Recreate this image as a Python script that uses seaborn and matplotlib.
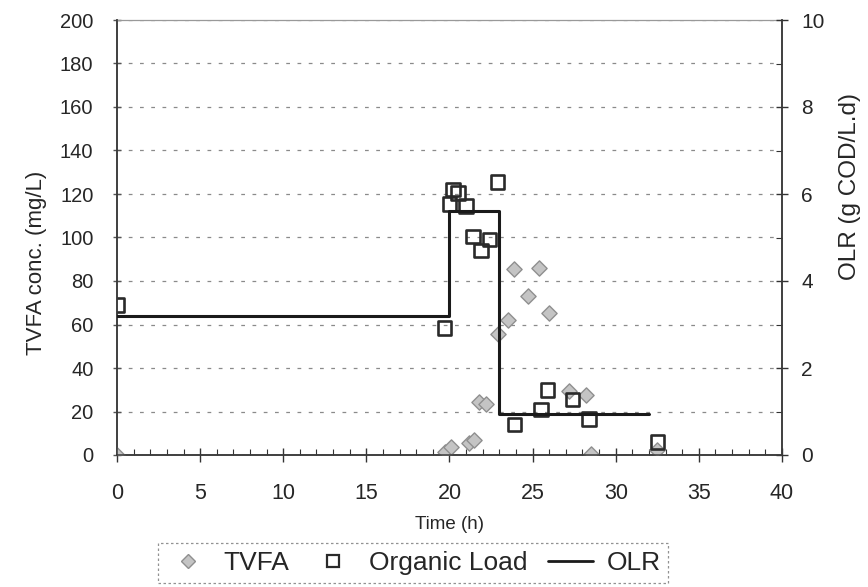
import matplotlib
matplotlib.use("Agg")
import matplotlib.pyplot as plt
import seaborn as sns
import pandas as pd
from matplotlib.ticker import MultipleLocator
from matplotlib.lines import Line2D

# ---- data ----
tvfa_time = [0, 19.7, 20.1, 21.2, 21.5, 21.8, 22.2, 22.9, 23.5, 23.9, 24.7, 25.4, 26.0, 27.2, 28.2, 28.5, 32.5]
tvfa_conc = [0, 1.5, 3.5, 5.5, 7.0, 24.5, 23.5, 55.5, 62.0, 85.5, 73.0, 86.0, 65.5, 29.5, 27.5, 0.5, 2.5]

load_time = [0, 19.7, 20.0, 20.2, 20.5, 21.0, 21.4, 21.9, 22.4, 22.9, 23.9, 25.5, 25.9, 27.4, 28.4, 32.5]
load_vals = [69, 58.5, 115.5, 122, 120.5, 114.5, 100.5, 94, 99, 125.5, 14, 21, 30, 25.5, 16.5, 6]

olr_time = [0, 20, 20, 23, 23, 32]
olr_vals = [3.2, 3.2, 5.6, 5.6, 0.95, 0.95]

x_ticks = [0, 5, 10, 15, 20, 25, 30, 35, 40]
y_left_ticks = [0, 20, 40, 60, 80, 100, 120, 140, 160, 180, 200]
y_right_ticks = [0, 2, 4, 6, 8, 10]

tvfa_df = pd.DataFrame({"Time": tvfa_time, "TVFA": tvfa_conc})
load_df = pd.DataFrame({"Time": load_time, "Load": load_vals})
olr_df = pd.DataFrame({"Time": olr_time, "OLR": olr_vals})

sns.set_theme(style="white")
plt.rcParams["font.family"] = ["Liberation Sans", "DejaVu Sans"]

fig = plt.figure(figsize=(8.68, 5.87), dpi=100)
ax = fig.add_axes([117/868, 1-455/587, (782-117)/868, (455-20)/587])
ax2 = ax.twinx()

# gridlines
ax.set_axisbelow(True)
ax.grid(axis="y", which="major", color="#8a8a8a", linestyle=(0, (3, 6)), linewidth=0.9)
ax.grid(axis="x", visible=False)

sns.scatterplot(data=tvfa_df, x="Time", y="TVFA", ax=ax, marker="D", s=60,
                color="#c4c4c4", edgecolor="#8f8f8f", linewidth=1.0, zorder=3, legend=False)
sns.scatterplot(data=load_df, x="Time", y="Load", ax=ax, marker="s", s=95,
                facecolor="none", edgecolor="#2a2a2a", linewidth=1.9, zorder=4, legend=False)
sns.lineplot(data=olr_df, x="Time", y="OLR", ax=ax2, sort=False, estimator=None,
             color="#1a1a1a", linewidth=2.2, zorder=5, legend=False)

ax.set_xlim(0, 40)
ax.set_ylim(0, 200)
ax2.set_ylim(0, 10)
ax.set_xticks(x_ticks)
ax.set_yticks(y_left_ticks)
ax2.set_yticks(y_right_ticks)
ax.xaxis.set_minor_locator(MultipleLocator(1))
ax2.yaxis.set_minor_locator(MultipleLocator(1))

for a in (ax, ax2):
    for sp in a.spines.values():
        sp.set_color("#3a3a3a")
        sp.set_linewidth(1.1)
ax.spines["top"].set_color("#999999")
ax.spines["top"].set_linewidth(0.9)
ax2.spines["top"].set_visible(False)

ax.tick_params(axis="x", which="major", direction="inout", length=10, width=1, color="#333",
               labelsize=15.5, pad=15, bottom=True)
ax.tick_params(axis="x", which="minor", direction="in", length=4, width=0.8, color="#333", bottom=True)
ax.tick_params(axis="y", which="major", direction="inout", length=6, width=1, color="#555",
               labelsize=14.5, pad=14, left=True)
ax2.tick_params(axis="y", which="major", direction="inout", length=8, width=1, color="#333",
                labelsize=15, pad=10, right=True)
ax2.tick_params(axis="y", which="minor", direction="in", length=4, width=0.8, color="#333", right=True)

ax.set_xlabel("Time (h)", fontsize=13.5, labelpad=9)
ax.set_ylabel("")
ax2.set_ylabel("")
fig.text(37/868, 1-263/587, "TVFA conc. (mg/L)", rotation=90, ha="center", va="center", fontsize=16)
fig.text(850/868, 1-187/587, "OLR (g COD/L.d)", rotation=90, ha="center", va="center", fontsize=17.5)

handles = [
    Line2D([], [], linestyle="none", marker="D", markersize=7, markerfacecolor="#c4c4c4",
           markeredgecolor="#8f8f8f", label="TVFA"),
    Line2D([], [], linestyle="none", marker="s", markersize=8, markerfacecolor="none",
           markeredgecolor="#2a2a2a", markeredgewidth=1.6, label="Organic Load"),
    Line2D([], [], color="#1a1a1a", linewidth=2, label="OLR"),
]
leg = fig.legend(handles=handles, loc="center", bbox_to_anchor=(413/868, 1-563/587), ncol=3,
                 fontsize=19, frameon=True, fancybox=False, handlelength=1.7, columnspacing=0.8,
                 handletextpad=0.5, borderpad=0.3, borderaxespad=0)
leg.get_frame().set_edgecolor("#777777")
leg.get_frame().set_linestyle((0, (2, 2)))
leg.get_frame().set_linewidth(0.9)

fig.savefig("out.png", dpi=100)
